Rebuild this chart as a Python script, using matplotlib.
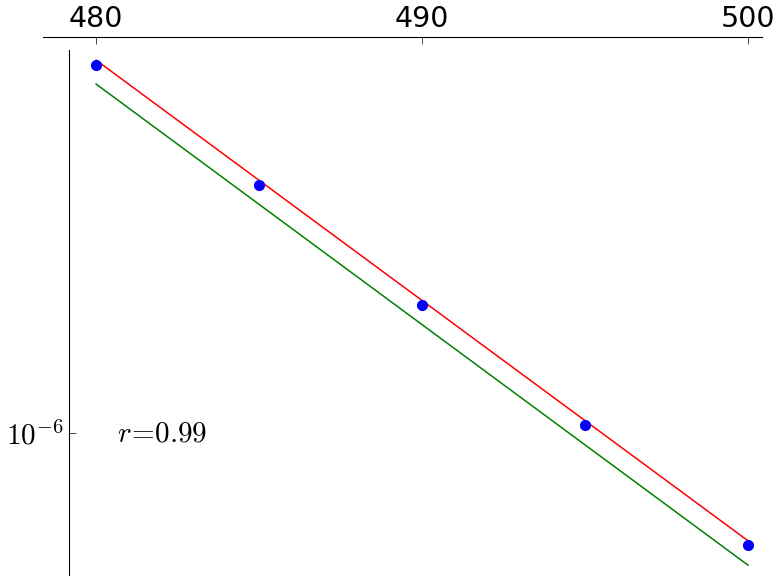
import matplotlib
matplotlib.use("Agg")
import matplotlib.pyplot as plt
import numpy as np

plt.rcParams['mathtext.fontset'] = 'cm'

# data
x_pts = [480, 485, 490, 495, 500]
y_pts = [2.019e-6, 1.605e-6, 1.276e-6, 1.015e-6, 0.807e-6]

fit_x = [480, 500]
fit_red = [2.038e-6, 0.814e-6]
fit_green = [1.947e-6, 0.777e-6]

xticks = [480, 490, 500]
yticks = [1e-6]
ytick_labels = [r'$10^{-6}$']
r_label = r'$r\!=\!0.99$'

fig = plt.figure(figsize=(7.82, 5.85), dpi=100)
ax = fig.add_axes([43 / 782, 10 / 585, 719 / 782, 525 / 585])

ax.plot(fit_x, fit_red, color='red', lw=1.1)
ax.plot(fit_x, fit_green, color='green', lw=1.1)
ax.plot(x_pts, y_pts, 'o', color='blue', ms=7)

ax.set_yscale('log')
ax.set_xlim(478.37, 500.43)
ax.set_ylim(0.7625e-6, 2.078e-6)

ax.spines['right'].set_visible(False)
ax.spines['bottom'].set_visible(False)
ax.spines['top'].set_position(('outward', 9.4))
ax.spines['left'].set_position(('data', 479.17))

ax.xaxis.tick_top()
ax.set_xticks(xticks)
ax.tick_params(axis='x', direction='in', length=5, width=0.5, labelsize=20.5, pad=3)

ax.yaxis.set_minor_locator(matplotlib.ticker.NullLocator())
ax.set_yticks(yticks)
ax.set_yticklabels(ytick_labels)
ax.tick_params(axis='y', which='both', direction='in', length=5, width=0.5, labelsize=21, pad=4)
ax.yaxis.set_minor_formatter(matplotlib.ticker.NullFormatter())

ax.text(480.65, 1e-6, r_label, fontsize=21, ha='left', va='center')

fig.savefig('out.png', dpi=100)
